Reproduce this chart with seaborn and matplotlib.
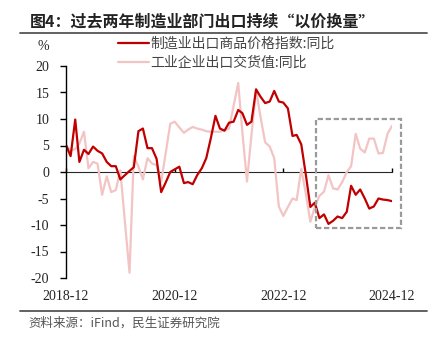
import numpy as np
import pandas as pd
import seaborn as sns
import matplotlib
matplotlib.use("Agg")
import matplotlib.pyplot as plt
import matplotlib.dates as mdates
from matplotlib.patches import Rectangle
from matplotlib.lines import Line2D

# ---------------- data ----------------
months = pd.date_range("2018-12-01", "2024-12-01", freq="MS")

price_index_yoy = [5.1, 3.0, 9.9, 1.9, 4.2, 3.4, 4.8, 4.0, 3.5, 1.9, 1.1, 1.1,
                   -1.4, -0.6, 0.2, 0.9, 7.7, 8.2, 4.5, 4.5, 2.5, -3.8, -2.0, 0.0,
                   0.5, 1.0, -2.1, -1.9, -2.3, -0.6, 0.7, 2.6, 6.4, 10.6, 8.2, 7.8,
                   9.3, 9.5, 11.7, 11.1, 8.9, 9.5, 15.6, 14.2, 13.0, 13.3, 15.3, 13.3,
                   13.1, 12.0, 6.8, 7.0, 5.2, -0.4, -6.6, -5.8, -8.7, -8.0, -9.8, -9.2,
                   -8.4, -8.7, -7.5, -2.6, -4.3, -3.3, -5.0, -6.9, -6.5, -5.0, -5.2, -5.3,
                   -5.5]

export_delivery_yoy = [5.0, 4.1, 4.3, 5.4, 7.6, 0.7, 1.9, 1.6, -4.3, -0.8, -3.8, -3.4,
                       0.3, np.nan, -19.0, 3.0, 1.0, -1.4, 2.6, 1.6, 1.3, -1.8, 3.5, 9.1,
                       9.5, 8.4, 7.4, 8.0, 8.5, 8.2, 8.0, 7.7, 7.6, 7.6, 7.6, 7.9,
                       8.2, np.nan, 16.8, 7.5, -1.8, 7.0, 15.5, 10.4, 5.6, 4.8, 2.6, -6.5,
                       -8.3, -6.6, -5.0, -5.3, 0.6, -4.0, -9.4, -6.6, -4.5, -3.7, -0.6, -3.1,
                       -3.3, -1.9, 0.0, 1.1, 7.2, 4.4, 3.7, 6.3, 6.3, 3.5, 3.6, 7.2,
                       8.7]

series_names = ["制造业出口商品价格指数:同比", "工业企业出口交货值:同比"]
tick_dates = ["2018-12-01", "2020-12-01", "2022-12-01", "2024-12-01"]
y_ticks = [-20, -15, -10, -5, 0, 5, 10, 15, 20]

title = "图4：过去两年制造业部门出口持续“以价换量”"
source = "资料来源：iFind，民生证券研究院"

# ---------------- style ----------------
sns.set_style("white")
plt.rcParams["font.family"] = ["Liberation Serif", "Noto Sans CJK SC", "DejaVu Sans"]
plt.rcParams["axes.unicode_minus"] = False

RED = "#c00000"
PINK = "#f2c4c4"
CJK = ["Noto Sans CJK SC", "DejaVu Sans"]

df_red = pd.DataFrame({"date": months, "value": price_index_yoy})
df_pink = pd.DataFrame({"date": months, "value": export_delivery_yoy}).dropna()

fig = plt.figure(figsize=(4.41, 3.47), dpi=100)
ax = fig.add_axes([66 / 441, 1 - 278 / 347, (392 - 66) / 441, (278 - 66) / 347])

sns.lineplot(data=df_pink, x="date", y="value", ax=ax, color=PINK, lw=1.6,
             label=series_names[1], legend=False)
sns.lineplot(data=df_red, x="date", y="value", ax=ax, color=RED, lw=1.6,
             label=series_names[0], legend=False)

ax.set_xlim(pd.Timestamp(tick_dates[0]), pd.Timestamp(tick_dates[-1]))
ax.set_ylim(-20, 20)
ax.set_yticks(y_ticks)
ax.set_yticklabels([str(v) for v in y_ticks])
ax.set_xticks([pd.Timestamp(d) for d in tick_dates])
ax.xaxis.set_major_formatter(mdates.DateFormatter("%Y-%m"))
ax.set_xlabel("")
ax.set_ylabel("")

for s in ["top", "right", "bottom"]:
    ax.spines[s].set_visible(False)
ax.spines["left"].set_color("black")
ax.spines["left"].set_linewidth(1.0)

ax.tick_params(axis="y", direction="out", length=4, width=1, color="black",
               pad=8, labelsize=10, labelcolor="#222222", left=True)
ax.tick_params(axis="x", length=0, pad=9, labelsize=10, labelcolor="#222222")
for lab in ax.get_xticklabels() + ax.get_yticklabels():
    lab.set_fontfamily(["Liberation Serif"])

# zero line with ticks
sec = ax.secondary_xaxis(0.5)
sec.set_xticks([pd.Timestamp(d) for d in tick_dates])
sec.set_xticklabels([])
sec.tick_params(direction="out", length=3, width=1, color="black")
sec.spines["bottom"].set_color("black")
sec.spines["bottom"].set_linewidth(1.2)

# dashed highlight box
x0 = mdates.date2num(pd.Timestamp("2023-07-07"))
x1 = mdates.date2num(pd.Timestamp("2025-01-28"))
ax.add_patch(Rectangle((x0, -10.5), x1 - x0, 20.5, fill=False, ec="#9a9a9a",
                       lw=1.6, ls=(0, (2.4, 1.2)), clip_on=False, zorder=5))

# legend
handles = [Line2D([], [], color=RED, lw=1.6), Line2D([], [], color=PINK, lw=1.6)]
fig.legend(handles, series_names, loc="upper left",
           bbox_to_anchor=(118 / 441, 1 - 37 / 347), frameon=False,
           prop={"family": CJK, "size": 10}, labelcolor="#444444",
           handlelength=2.2, handletextpad=0.15, labelspacing=0.32,
           borderaxespad=0, borderpad=0)

fig.text(37 / 441, 1 - 47 / 347, "%", fontsize=10, family=["Liberation Serif"],
         color="#222222", ha="left", va="center")

# title, rules and source
fig.text(30 / 441, 1 - 21 / 347, title, fontsize=11.5, fontweight="bold",
         family=CJK, color="#222222", ha="left", va="center")
fig.add_artist(Line2D([20 / 441, 427 / 441], [1 - 33 / 347, 1 - 33 / 347],
                      color="#555555", lw=1.3, transform=fig.transFigure))
fig.add_artist(Line2D([20 / 441, 427 / 441], [1 - 311 / 347, 1 - 311 / 347],
                      color="#555555", lw=1.3, transform=fig.transFigure))
fig.text(28 / 441, 1 - 323 / 347, source, fontsize=9, family=CJK,
         color="#555555", ha="left", va="center")

fig.savefig("out.png", dpi=100)
